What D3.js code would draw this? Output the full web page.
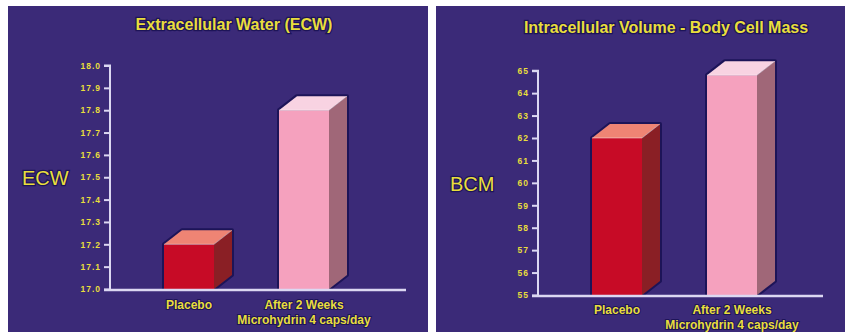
<!DOCTYPE html>
<html>
<head>
<meta charset="utf-8">
<script src="https://cdn.jsdelivr.net/npm/d3@7"></script>
<style>
  html, body { margin: 0; padding: 0; background: #ffffff; }
  svg { display: block; }
  text { font-family: "Liberation Sans", Arial, sans-serif; }
</style>
</head>
<body>
<svg id="viz" width="845" height="332"></svg>
<script>
// chart data
let categories = ["Placebo", "After 2 Weeks|Microhydrin 4 caps/day"];
let ecwValues = [17.2, 17.8];
let bcmValues = [62.0, 64.8];
let ecwTicks = [17.0, 17.1, 17.2, 17.3, 17.4, 17.5, 17.6, 17.7, 17.8, 17.9, 18.0];
let bcmTicks = [55, 56, 57, 58, 59, 60, 61, 62, 63, 64, 65];

let panels = [
	{x0: 8, x1: 428, title: "Extracellular Water (ECW)", titleX: 234, titleY: 30, label: "ECW",
	 values: ecwValues, ticks: ecwTicks, fmt: d3.format(".1f"),
	 yBase: 289, yTop: 65.5, labelY: 309},
	{x0: 436, x1: 845, title: "Intracellular Volume - Body Cell Mass", titleX: 666, titleY: 33, label: "BCM",
	 values: bcmValues, ticks: bcmTicks, fmt: d3.format("d"),
	 yBase: 295, yTop: 70.7, labelY: 314}
];

let faceColors = [
	{front: "#c70b26", top: "#ef8474", side: "#8a1f25"},
	{front: "#f5a1be", top: "#f8d3e2", side: "#a06778"}
];

let yellow = "#e9de3c";
let shadow = "#1d1458";
let axisColor = "#dcd8f2";
let depthX = 18, depthY = 14, barW = 50;

function drawPanel(svg, p){
	let g = svg.append("g");

	g.append("rect")
		.attr("x", p.x0).attr("y", 6)
		.attr("width", p.x1 - p.x0).attr("height", 326)
		.attr("fill", "#3b2a78");

	let axisX = p.x0 + 102;

	let y = d3.scaleLinear()
		.domain([p.ticks[0], p.ticks[p.ticks.length - 1]])
		.range([p.yBase, p.yTop]);

	let x = d3.scalePoint()
		.domain(categories)
		.range([axisX + 79, axisX + 194]);

	// title
	g.append("text")
		.attr("x", p.titleX)
		.attr("y", p.titleY)
		.attr("text-anchor", "middle")
		.attr("font-size", 16)
		.attr("font-weight", "bold")
		.attr("fill", yellow)
		.attr("stroke", shadow).attr("stroke-width", 2.5)
		.attr("paint-order", "stroke")
		.text(p.title);

	// side label
	g.append("text")
		.attr("x", p.x0 + 14)
		.attr("y", (p.yBase + p.yTop) / 2 + 8)
		.attr("font-size", 20)
		.attr("fill", yellow)
		.attr("stroke", shadow).attr("stroke-width", 2.5)
		.attr("paint-order", "stroke")
		.text(p.label);

	// bars
	let bars = g.selectAll(".bar")
		.data(p.values)
		.enter()
		.append("g")
		.attr("class", "bar");

	bars.each(function(v, i){
		let b = d3.select(this);
		let cx = x(categories[i]);
		let x1 = cx - barW / 2, x2 = cx + barW / 2;
		let yt = y(v), yb = y(p.ticks[0]);
		let c = faceColors[i];

		// dark glow behind the whole block
		b.append("polygon")
			.attr("points", [[x1, yb], [x1, yt], [x1 + depthX, yt - depthY],
				[x2 + depthX, yt - depthY], [x2 + depthX, yb - depthY], [x2, yb]].join(" "))
			.attr("fill", shadow)
			.attr("stroke", shadow).attr("stroke-width", 4)
			.attr("stroke-linejoin", "round");

		b.append("rect")
			.attr("x", x1).attr("y", yt)
			.attr("width", barW).attr("height", yb - yt)
			.attr("fill", c.front);

		b.append("polygon")
			.attr("points", [[x1, yt], [x1 + depthX, yt - depthY],
				[x2 + depthX, yt - depthY], [x2, yt]].join(" "))
			.attr("fill", c.top);

		b.append("polygon")
			.attr("points", [[x2, yt], [x2 + depthX, yt - depthY],
				[x2 + depthX, yb - depthY], [x2, yb]].join(" "))
			.attr("fill", c.side);

		// light edges
		b.append("path")
			.attr("d", "M" + x1 + "," + yt + "L" + x2 + "," + yt + "L" + (x2 + depthX) + "," + (yt - depthY))
			.attr("fill", "none")
			.attr("stroke", "#ffffff").attr("stroke-opacity", 0.45)
			.attr("stroke-width", 1);
	});

	// y axis
	let axis = g.append("g")
		.attr("transform", "translate(" + axisX + ",0)")
		.call(d3.axisLeft(y).tickValues(p.ticks).tickFormat(p.fmt).tickSize(6).tickPadding(3));

	axis.select(".domain")
		.attr("stroke", axisColor).attr("stroke-width", 2)
		.attr("d", "M-6," + p.yTop + "H0V" + p.yBase);
	axis.selectAll(".tick line")
		.attr("stroke", axisColor).attr("stroke-width", 2);
	axis.selectAll(".tick text")
		.attr("fill", yellow)
		.attr("font-size", 8.5)
		.attr("font-weight", "bold")
		.attr("letter-spacing", 1)
		.attr("font-family", "Liberation Sans, Arial, sans-serif");

	// baseline
	g.append("line")
		.attr("x1", axisX - 6).attr("x2", p.x1 - 22)
		.attr("y1", p.yBase + 1).attr("y2", p.yBase + 1)
		.attr("stroke", axisColor).attr("stroke-width", 2.5);

	// category labels
	categories.forEach(cat => {
		let lines = cat.split("|");
		let t = g.append("text")
			.attr("x", x(cat))
			.attr("y", p.labelY)
			.attr("text-anchor", "middle")
			.attr("font-size", 12)
			.attr("font-weight", "bold")
			.attr("fill", yellow)
			.attr("stroke", shadow).attr("stroke-width", 2)
			.attr("paint-order", "stroke");
		lines.forEach((ln, k) => {
			t.append("tspan")
				.attr("x", x(cat))
				.attr("dy", k == 0 ? 0 : 14.5)
				.text(ln);
		});
	});
}

let svg = d3.select("#viz");
panels.forEach(p => drawPanel(svg, p));
</script>
</body>
</html>
